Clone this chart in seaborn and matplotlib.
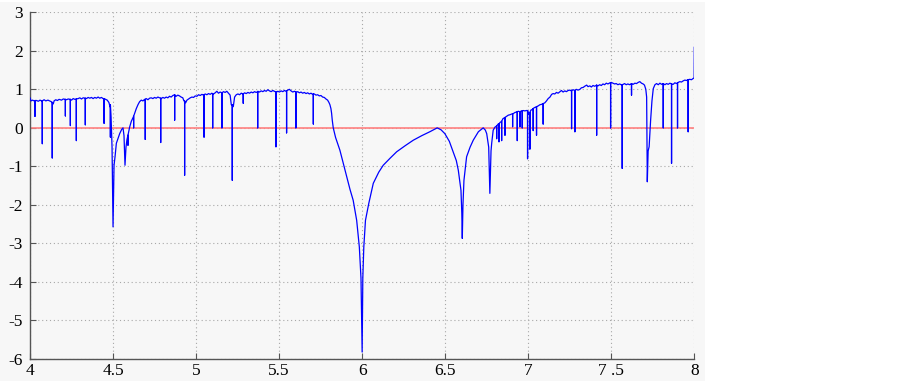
import numpy as np
import pandas as pd
import matplotlib
matplotlib.use("Agg")
import matplotlib.pyplot as plt
from matplotlib.patches import Rectangle
import seaborn as sns

# ---- data ----
base_x = [4.000, 4.006, 4.015, 4.025, 4.040, 4.050, 4.060, 4.070, 4.085, 4.095, 4.108, 4.118, 4.128,
          4.140, 4.145, 4.155, 4.165, 4.175, 4.190, 4.200, 4.220, 4.230, 4.250, 4.260, 4.270, 4.290,
          4.300, 4.310, 4.320, 4.340, 4.350, 4.360, 4.370, 4.380, 4.390, 4.400, 4.410, 4.420, 4.430,
          4.440, 4.455, 4.465, 4.475, 4.482, 4.488, 4.494, 4.500, 4.506, 4.512, 4.520, 4.532, 4.540,
          4.552, 4.560, 4.566, 4.572, 4.578, 4.584, 4.590, 4.600, 4.610, 4.624, 4.640, 4.650, 4.660,
          4.670, 4.680, 4.690, 4.700, 4.710, 4.720, 4.730, 4.740, 4.750, 4.760, 4.770, 4.780, 4.790,
          4.800, 4.810, 4.820, 4.830, 4.840, 4.850, 4.860, 4.870, 4.880, 4.890, 4.900, 4.910, 4.920,
          4.927, 4.937, 4.945, 4.955, 4.965, 4.975, 4.985, 4.995, 5.005, 5.015, 5.025, 5.035, 5.045,
          5.055, 5.065, 5.075, 5.085, 5.095, 5.105, 5.115, 5.125, 5.135, 5.145, 5.155, 5.165, 5.175,
          5.185, 5.195, 5.205, 5.212, 5.224, 5.232, 5.242, 5.252, 5.262, 5.272, 5.282, 5.292, 5.302,
          5.312, 5.322, 5.332, 5.342, 5.352, 5.362, 5.372, 5.382, 5.392, 5.402, 5.412, 5.422, 5.432,
          5.442, 5.452, 5.462, 5.472, 5.482, 5.492, 5.502, 5.512, 5.522, 5.532, 5.542, 5.552, 5.562,
          5.572, 5.582, 5.592, 5.602, 5.612, 5.622, 5.632, 5.642, 5.652, 5.662, 5.672, 5.682, 5.692,
          5.702, 5.712, 5.722, 5.732, 5.742, 5.752, 5.762, 5.772, 5.782, 5.792, 5.800, 5.806, 5.812,
          5.816, 5.820, 5.826, 5.840, 5.866, 5.907, 5.927, 5.946, 5.967, 5.983, 5.993, 6.000, 6.004,
          6.010, 6.020, 6.040, 6.067, 6.100, 6.127, 6.170, 6.208, 6.260, 6.308, 6.360, 6.408, 6.452,
          6.475, 6.498, 6.525, 6.548, 6.567, 6.579, 6.595, 6.600, 6.603, 6.607, 6.613, 6.629, 6.650,
          6.669, 6.700, 6.729, 6.742, 6.750, 6.762, 6.769, 6.776, 6.780, 6.789, 6.800, 6.810, 6.819,
          6.830, 6.840, 6.848, 6.860, 6.870, 6.880, 6.890, 6.900, 6.910, 6.920, 6.930, 6.940, 6.950,
          6.960, 6.970, 6.980, 6.988, 7.004, 7.016, 7.025, 7.035, 7.050, 7.060, 7.070, 7.080, 7.090,
          7.100, 7.110, 7.120, 7.131, 7.141, 7.150, 7.160, 7.170, 7.180, 7.191, 7.200, 7.210, 7.220,
          7.230, 7.240, 7.251, 7.260, 7.270, 7.280, 7.290, 7.300, 7.311, 7.320, 7.331, 7.340, 7.352,
          7.360, 7.371, 7.380, 7.390, 7.400, 7.412, 7.420, 7.430, 7.440, 7.450, 7.460, 7.470, 7.480,
          7.492, 7.500, 7.510, 7.520, 7.530, 7.540, 7.550, 7.560, 7.572, 7.580, 7.590, 7.600, 7.610,
          7.622, 7.632, 7.642, 7.652, 7.662, 7.672, 7.682, 7.692, 7.700, 7.708, 7.713, 7.717, 7.722,
          7.728, 7.733, 7.737, 7.745, 7.753, 7.763, 7.773, 7.783, 7.793, 7.803, 7.813, 7.823, 7.833,
          7.843, 7.853, 7.863, 7.873, 7.883, 7.893, 7.903, 7.913, 7.923, 7.933, 7.943, 7.953, 7.963,
          7.973, 7.983, 7.993, 7.999, 8.000]
base_y = [0.78, 0.70, 0.72, 0.70, 0.71, 0.69, 0.72, 0.70, 0.73, 0.70, 0.72, 0.70, 0.68,
          0.62, 0.70, 0.73, 0.71, 0.74, 0.72, 0.75, 0.73, 0.75, 0.72, 0.76, 0.74, 0.76,
          0.78, 0.75, 0.78, 0.76, 0.79, 0.77, 0.79, 0.76, 0.79, 0.77, 0.80, 0.77, 0.79,
          0.76, 0.74, 0.72, 0.66, 0.55, 0.30, -0.50, -2.57, -0.97, -0.75, -0.40, -0.25, -0.15,
          -0.04, 0.00, -0.20, -0.97, -0.50, -0.30, -0.19, 0.02, 0.17, 0.30, 0.50, 0.60, 0.68,
          0.72, 0.70, 0.74, 0.76, 0.73, 0.77, 0.78, 0.76, 0.79, 0.77, 0.80, 0.78, 0.76,
          0.79, 0.77, 0.80, 0.78, 0.82, 0.80, 0.84, 0.86, 0.82, 0.85, 0.83, 0.80, 0.78,
          0.70, 0.65, 0.72, 0.75, 0.78, 0.80, 0.79, 0.83, 0.82, 0.86, 0.84, 0.87, 0.85,
          0.88, 0.86, 0.89, 0.87, 0.90, 0.88, 0.91, 0.95, 0.90, 0.93, 0.91, 0.94, 0.92,
          0.95, 0.90, 0.85, 0.60, 0.55, 0.80, 0.86, 0.88, 0.86, 0.90, 0.88, 0.91, 0.89,
          0.92, 0.90, 0.93, 0.91, 0.94, 0.92, 0.95, 0.93, 0.96, 0.94, 0.97, 0.95, 0.99,
          0.96, 0.94, 0.97, 0.95, 0.92, 0.95, 0.93, 0.96, 0.94, 0.97, 0.95, 0.98, 1.00,
          0.96, 0.93, 0.95, 0.92, 0.94, 0.91, 0.93, 0.90, 0.92, 0.89, 0.91, 0.88, 0.90,
          0.87, 0.88, 0.85, 0.86, 0.83, 0.84, 0.80, 0.79, 0.75, 0.72, 0.66, 0.60, 0.50,
          0.38, 0.20, 0.00, -0.25, -0.58, -1.27, -1.60, -1.88, -2.40, -3.09, -3.90, -5.82, -3.90,
          -3.09, -2.40, -1.96, -1.44, -1.15, -0.97, -0.78, -0.62, -0.46, -0.32, -0.20, -0.10, 0.00,
          -0.05, -0.15, -0.35, -0.62, -0.85, -1.10, -1.62, -2.20, -2.87, -2.00, -1.36, -0.75, -0.50,
          -0.32, -0.10, 0.00, -0.06, -0.15, -0.50, -1.70, -0.60, -0.40, -0.06, 0.02, 0.05, 0.10,
          0.14, 0.17, 0.24, 0.27, 0.30, 0.33, 0.34, 0.36, 0.37, 0.40, 0.41, 0.43, 0.42,
          0.44, 0.45, 0.44, 0.45, 0.35, 0.46, 0.48, 0.52, 0.55, 0.57, 0.60, 0.61, 0.63,
          0.65, 0.70, 0.76, 0.80, 0.87, 0.89, 0.88, 0.92, 0.90, 0.94, 0.97, 0.93, 0.96,
          0.94, 0.97, 0.98, 0.96, 0.99, 0.97, 1.00, 0.98, 1.00, 1.04, 1.05, 1.08, 1.11,
          1.07, 1.09, 1.06, 1.10, 1.08, 1.11, 1.09, 1.12, 1.10, 1.14, 1.12, 1.16, 1.14,
          1.17, 1.18, 1.16, 1.14, 1.15, 1.12, 1.14, 1.12, 1.13, 1.15, 1.12, 1.14, 1.12,
          1.15, 1.13, 1.16, 1.15, 1.18, 1.20, 1.16, 1.14, 1.11, 1.00, 0.80, -1.40, -0.60,
          -0.49, -0.10, 0.20, 0.70, 1.02, 1.12, 1.15, 1.12, 1.16, 1.13, 1.15, 1.12, 1.15,
          1.13, 1.16, 1.14, 1.13, 1.17, 1.15, 1.18, 1.20, 1.19, 1.22, 1.24, 1.23, 1.25,
          1.26, 1.25, 1.28, 1.30, 2.10]

# narrow downward spikes: position, level they start from, lowest value
spike_x = [4.030, 4.074, 4.134, 4.213, 4.243, 4.279, 4.333, 4.446, 4.484, 4.590, 4.624, 4.694,
           4.787, 4.871, 4.931, 5.048, 5.100, 5.156, 5.218, 5.284, 5.371, 5.481, 5.545, 5.601,
           5.706, 6.810, 6.824, 6.840, 6.860, 6.906, 6.934, 6.950, 6.964, 6.996, 7.010, 7.030,
           7.050, 7.090, 7.261, 7.281, 7.412, 7.496, 7.566, 7.622, 7.813, 7.863, 7.899, 7.963]
spike_top = [0.71, 0.70, 0.66, 0.74, 0.74, 0.75, 0.77, 0.76, 0.60, -0.19, 0.30, 0.74,
             0.77, 0.86, 0.70, 0.86, 0.88, 0.91, 0.60, 0.88, 0.94, 0.93, 0.96, 0.93,
             0.88, 0.05, 0.10, 0.17, 0.27, 0.36, 0.42, 0.42, 0.44, 0.45, 0.40, 0.50,
             0.55, 0.63, 0.97, 0.97, 1.11, 1.17, 1.12, 1.15, 1.15, 1.14, 1.17, 1.25]
spike_low = [0.30, -0.41, -0.78, 0.31, 0.06, -0.33, 0.08, 0.12, -0.24, -0.45, 0.00, -0.30,
             -0.38, 0.20, -1.23, -0.24, 0.00, 0.00, -1.36, 0.64, 0.00, -0.49, -0.13, 0.00,
             0.10, -0.28, -0.36, -0.33, -0.19, 0.03, -0.33, 0.03, 0.00, -0.80, -0.55, -0.07,
             -0.19, 0.10, -0.02, -0.10, -0.19, 0.00, -1.05, 0.85, 0.00, -0.92, 0.00, -0.10]

zero_x = [4.0, 8.0]
zero_y = [0.0, 0.0]

x_ticks = [4, 4.5, 5, 5.5, 6, 6.5, 7, 7.5, 8]
x_tick_labels = ["4", "4.5", "5", "5.5", "6", "6.5", "7", "7 .5", "8"]
y_ticks = [-6, -5, -4, -3, -2, -1, 0, 1, 2, 3]
y_tick_labels = ["-6", "-5", "-4", "-3", "-2", "-1", "0", "1", "2", "3"]

# ---- assemble the series ----
rows = [(x, 0, y) for x, y in zip(base_x, base_y)]
for x, t, b in zip(spike_x, spike_top, spike_low):
    rows += [(x, 1, t), (x, 2, b), (x, 3, t)]
df = pd.DataFrame(rows, columns=["x", "o", "y"]).sort_values(["x", "o"], kind="stable")
df_zero = pd.DataFrame({"x": zero_x, "y": zero_y})

sns.set_style("whitegrid")
plt.rcParams["font.family"] = ["Liberation Serif", "DejaVu Serif"]
plt.rcParams["axes.unicode_minus"] = False

fig = plt.figure(figsize=(9.03, 3.83), dpi=100, facecolor="white")
fig.patches.append(Rectangle((0.0, 0.006), 705 / 903, 0.988, transform=fig.transFigure,
                             facecolor="#f7f7f7", edgecolor="none", zorder=-10))
ax = fig.add_axes([30 / 903, 1 - 359 / 383, (694.3 - 30) / 903, (359 - 12.3) / 383])
ax.set_facecolor("#f7f7f7")

sns.lineplot(data=df_zero, x="x", y="y", ax=ax, color="#ff8080", lw=1.2, sort=False,
             estimator=None, zorder=2)
sns.lineplot(data=df, x="x", y="y", ax=ax, color="#0000ff", lw=0.9, sort=False,
             estimator=None, zorder=3)

ax.set_xlim(4, 8)
ax.set_ylim(-6, 3)
ax.set_xticks(x_ticks)
ax.set_xticklabels(x_tick_labels)
ax.set_yticks(y_ticks)
ax.set_yticklabels(y_tick_labels)
ax.set_xlabel("")
ax.set_ylabel("")

ax.grid(True, color="#a8a8a8", linestyle=(0, (1, 2.5)), lw=0.8)
for s in ["top", "right"]:
    ax.spines[s].set_visible(False)
for s in ["left", "bottom"]:
    ax.spines[s].set_visible(True)
    ax.spines[s].set_color("#555555")
    ax.spines[s].set_linewidth(1.0)
ax.tick_params(axis="both", direction="in", length=4, width=0.8, color="#555555",
               labelsize=12.5, labelcolor="black")
ax.tick_params(axis="x", pad=3, bottom=True)
ax.tick_params(axis="y", pad=5, left=True)

fig.savefig("out.png", dpi=100, facecolor=fig.get_facecolor())
